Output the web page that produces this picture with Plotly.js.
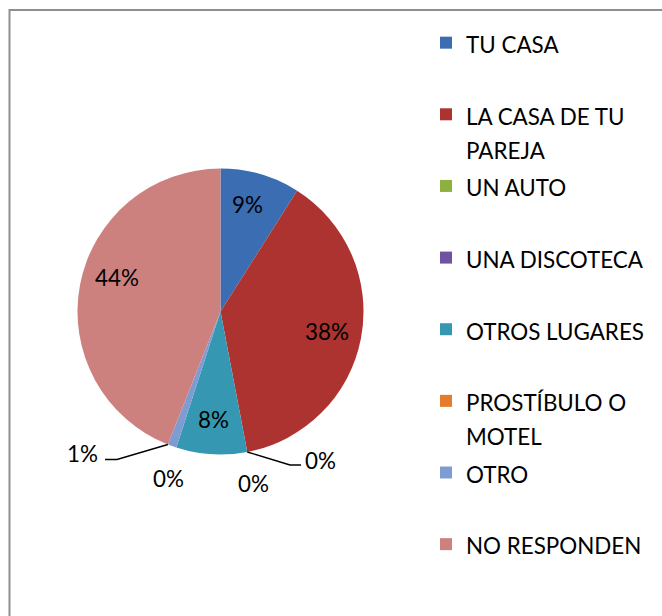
<!DOCTYPE html>
<html><head><meta charset="utf-8">
<script src="https://cdn.plot.ly/plotly-3.0.1.min.js"></script>
<style>html,body{margin:0;padding:0;background:#fff}#chart{width:662px;height:616px}</style>
</head><body><div id="chart"></div>
<script>
// ---- data ----
const categories = ["TU CASA","LA CASA DE TU PAREJA","UN AUTO","UNA DISCOTECA","OTROS LUGARES","PROSTÍBULO O MOTEL","OTRO","NO RESPONDEN"];
const percentages = [9, 38, 0, 0, 8, 0, 1, 44];

// ---- styles ----
const sliceColors = ["#3b6db2","#ad3330","#8db13f","#6e53a0","#3597b2","#e47b2d","#7e9cd2","#cd817f"];
const W = 662, H = 616;
const FAM = 'Lato, "Open Sans", sans-serif';
const CX = 220.5, CY = 311.5, R = 143;          // pie geometry in px
const px = x => x / W, py = y => 1 - y / H;

function measure(txt){
  const c = document.createElement('canvas').getContext('2d');
  c.font = '100px Lato';
  return c.measureText(txt).width;
}
let textSize = (160 + 179.3) / (measure("LA CASA DE TU") + measure("OTROS LUGARES")) * 100;
if (!(textSize > 15 && textSize < 35)) textSize = 24;
textSize = Math.round(textSize * 10) / 10;

function wrap(s){
  if (s.length <= 13) return [s];
  const i = s.lastIndexOf(' ', 13);
  return [s.slice(0, i), s.slice(i + 1)];
}
const legendLabels = categories.map(c => {
  const lines = wrap(c);
  while (lines.length < 2) lines.push('\u00a0');
  return lines.map(l => `<span style="font-size:${textSize}px">${l}</span>`).join('<br>');
});

// angles from data
const total = percentages.reduce((a, b) => a + b, 0);
let cum = 0;
const startA = [], endA = [];
percentages.forEach(v => { startA.push(cum / total * 2 * Math.PI); cum += v; endA.push(cum / total * 2 * Math.PI); });
const pt = (a, r) => [CX + r * Math.sin(a), CY - r * Math.cos(a)];

const annotations = [];
const shapes = [];
// inside labels
const insideNudge = {0: [-3, -3], 1: [0, 0], 4: [0, 0], 7: [3, -14]};
percentages.forEach((v, i) => {
  if (v < 5) return;
  const mid = (startA[i] + endA[i]) / 2;
  const [x, y] = pt(mid, 0.76 * R);
  const n = insideNudge[i] || [0, 0];
  annotations.push({xref:'paper', yref:'paper', x: px(x + n[0]), y: py(y + n[1]), text: v + '%',
    showarrow:false, xanchor:'center', yanchor:'middle', font:{family:FAM, size:textSize, color:'#000'}});
});
// outside labels (Excel-placed positions) with optional leader lines
const outside = {
  2: {lab:[320, 460], line:[[290, 465], [301, 465]]},
  3: {lab:[253, 483]},
  5: {lab:[168, 478]},
  6: {lab:[82, 453], line:[[117, 459.5], [105, 459.5]]}
};
Object.keys(outside).forEach(k => {
  const i = +k, o = outside[k];
  annotations.push({xref:'paper', yref:'paper', x: px(o.lab[0]), y: py(o.lab[1]), text: percentages[i] + '%',
    showarrow:false, xanchor:'center', yanchor:'middle', font:{family:FAM, size:textSize, color:'#000'}});
  if (o.line) {
    const [ex, ey] = pt(endA[i], R);
    const path = `M${px(ex)},${py(ey)} L${px(o.line[0][0])},${py(o.line[0][1])} L${px(o.line[1][0])},${py(o.line[1][1])}`;
    shapes.push({type:'path', xref:'paper', yref:'paper', path, line:{color:'#000', width:1.4}});
  }
});
// chart frame
shapes.push({type:'rect', xref:'paper', yref:'paper', x0: px(9.5), y0: py(10), x1: 1.2, y1: -0.2,
  line:{color:'#8e8e8e', width:2}, fillcolor:'rgba(0,0,0,0)', layer:'below'});

const trace = {
  type:'pie', labels: legendLabels, values: percentages, sort:false, direction:'clockwise', rotation:0,
  marker:{colors: sliceColors, line:{width:0}}, textinfo:'none', hoverinfo:'none',
  domain:{x:[px(CX - R), px(CX + R)], y:[py(CY + R), py(CY - R)]}
};

const layout = {
  width: W, height: H, margin:{l:0, r:0, t:0, b:0, pad:0},
  paper_bgcolor:'#fff', plot_bgcolor:'#fff', showlegend:true,
  legend:{x: px(426), xanchor:'left', y: py(19), yanchor:'top', valign:'top',
    font:{family:FAM, size:26.4, color:'#000'}, bgcolor:'rgba(0,0,0,0)', borderwidth:0, traceorder:'normal'},
  annotations, shapes
};
Plotly.newPlot('chart', [trace], layout, {staticPlot:true, displayModeBar:false});
</script></body></html>
